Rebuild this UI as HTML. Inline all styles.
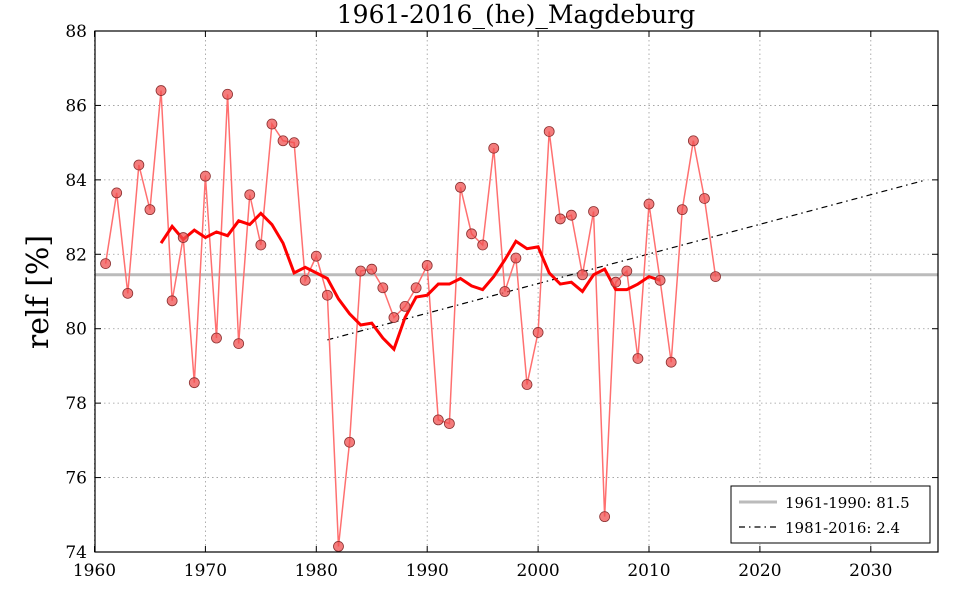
<!DOCTYPE html>
<html><head><meta charset="utf-8"><style>
body{margin:0;background:#fff}
svg text{font-family:"DejaVu Serif","Liberation Serif",serif}
</style></head><body>
<svg id="s" width="960" height="600" xmlns="http://www.w3.org/2000/svg"></svg>
<script>
const X0=95,X1=938,Y0=31,Y1=552;
const px=y=>94.5+(y-1960)*11.09;
const py=v=>Y1-(v-74)*(Y1-Y0)/14;
const data=[81.75,83.65,80.95,84.4,83.2,86.4,80.75,82.45,78.55,84.1,79.75,86.3,79.6,83.6,82.25,85.5,85.05,85.0,81.3,81.95,80.9,74.15,76.95,81.55,81.6,81.1,80.3,80.6,81.1,81.7,77.55,77.45,83.8,82.55,82.25,84.85,81.0,81.9,78.5,79.9,85.3,82.95,83.05,81.45,83.15,74.95,81.25,81.55,79.2,83.35,81.3,79.1,83.2,85.05,83.5,81.4];
const ma=[82.3,82.75,82.4,82.65,82.45,82.6,82.5,82.9,82.8,83.1,82.8,82.3,81.5,81.65,81.5,81.35,80.8,80.4,80.1,80.15,79.75,79.45,80.3,80.85,80.9,81.2,81.2,81.35,81.15,81.05,81.4,81.85,82.35,82.15,82.2,81.5,81.2,81.25,81.0,81.45,81.6,81.05,81.05,81.2,81.4,81.3];
let h='';
for(let y=1960;y<=2030;y+=10){const x=px(y);h+=`<line x1="${x}" y1="${Y0}" x2="${x}" y2="${Y1}" stroke="#999" stroke-dasharray="1.5,3" stroke-width="0.8"/>`;
h+=`<text x="${x}" y="576" font-size="17" text-anchor="middle">${y}</text>`;
h+=`<line x1="${x}" y1="${Y1}" x2="${x}" y2="${Y1-6}" stroke="#000"/><line x1="${x}" y1="${Y0}" x2="${x}" y2="${Y0+6}" stroke="#000"/>`;}
for(let v=74;v<=88;v+=2){const y=py(v);h+=`<line x1="${X0}" y1="${y}" x2="${X1}" y2="${y}" stroke="#999" stroke-dasharray="1.5,3" stroke-width="0.8"/>`;
h+=`<text x="${X0-8}" y="${y+6}" font-size="17" text-anchor="end">${v}</text>`;
h+=`<line x1="${X0}" y1="${y}" x2="${X0+6}" y2="${y}" stroke="#000"/><line x1="${X1}" y1="${y}" x2="${X1-6}" y2="${y}" stroke="#000"/>`;}
h+=`<line x1="${X0}" y1="${py(81.45)}" x2="${X1}" y2="${py(81.45)}" stroke="#bbb" stroke-width="3"/>`;
h+=`<line x1="${px(1981)}" y1="${py(79.7)}" x2="${px(2035)}" y2="${py(84.0)}" stroke="#000" stroke-width="1.2" stroke-dasharray="6,4,1.5,4"/>`;
h+=`<polyline fill="none" stroke="#ff7070" stroke-width="1.5" points="${data.map((v,i)=>px(1961+i)+','+py(v)).join(' ')}"/>`;
h+=`<polyline fill="none" stroke="#f00" stroke-width="3" points="${ma.map((v,i)=>px(1966+i)+','+py(v)).join(' ')}"/>`;
data.forEach((v,i)=>{h+=`<circle cx="${px(1961+i)}" cy="${py(v)}" r="5" fill="#f05050" fill-opacity="0.75" stroke="#8a3030" stroke-width="0.8"/>`;});
h+=`<rect x="${X0}" y="${Y0}" width="${X1-X0}" height="${Y1-Y0}" fill="none" stroke="#000" stroke-width="1.2"/>`;
h+=`<rect x="731" y="486" width="199" height="57" fill="#fff" stroke="#000"/>`;
h+=`<line x1="739" y1="502" x2="777" y2="502" stroke="#bbb" stroke-width="3"/><text x="785" y="508" font-size="15">1961-1990: 81.5</text>`;
h+=`<line x1="739" y1="527" x2="777" y2="527" stroke="#000" stroke-width="1.2" stroke-dasharray="6,4,1.5,4"/><text x="785" y="533" font-size="15">1981-2016: 2.4</text>`;
h+=`<text x="516" y="23" font-size="25" text-anchor="middle">1961-2016_(he)_Magdeburg</text>`;
h+=`<text transform="translate(48,292) rotate(-90)" font-size="30" text-anchor="middle">relf [%]</text>`;
document.getElementById('s').innerHTML=h;
</script>
</body></html>
